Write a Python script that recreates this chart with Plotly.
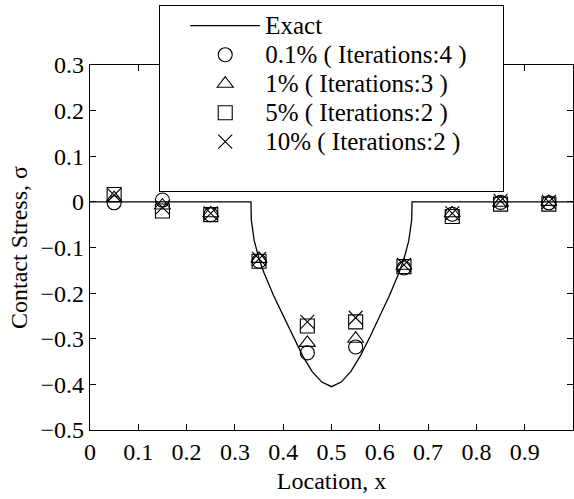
import plotly.graph_objects as go

# Exact solution
exact_x = [0.0, 0.3333, 0.334, 0.34, 0.35, 0.36, 0.38, 0.40, 0.42, 0.44, 0.46, 0.48, 0.50,
           0.52, 0.54, 0.56, 0.58, 0.60, 0.62, 0.64, 0.65, 0.66, 0.666, 0.6667, 1.0]
exact_y = [0.0, 0.0, -0.04, -0.085, -0.125, -0.155, -0.205, -0.25, -0.295, -0.337, -0.372, -0.395, -0.405,
           -0.395, -0.372, -0.337, -0.295, -0.25, -0.205, -0.155, -0.125, -0.085, -0.04, 0.0, 0.0]

loc = [0.05, 0.15, 0.25, 0.35, 0.45, 0.55, 0.65, 0.75, 0.85, 0.95]
s01 = [-0.002, 0.004, -0.028, -0.130, -0.331, -0.318, -0.145, -0.027, -0.001, -0.002]
s1 = [0.008, -0.008, -0.025, -0.125, -0.309, -0.300, -0.140, -0.025, -0.002, 0.000]
s5 = [0.016, -0.020, -0.028, -0.130, -0.272, -0.263, -0.142, -0.032, -0.005, -0.005]
s10 = [0.015, -0.012, -0.025, -0.125, -0.263, -0.254, -0.138, -0.025, 0.002, 0.000]

names = ["0.1% ( Iterations:4 )", "1% ( Iterations:3 )", "5% ( Iterations:2 )", "10% ( Iterations:2 )"]
symbols = ["circle-open", "triangle-up-open", "square-open", "x-thin-open"]
series = [s01, s1, s5, s10]

FONT = "Liberation Serif, Times New Roman, serif"


def big(t):
    return '<span style="font-size:25px">' + t + '\u00a0' * 5 + '</span>'


fig = go.Figure()
fig.add_trace(go.Scatter(x=exact_x, y=exact_y, mode="lines", name=big("Exact"),
                         line=dict(color="black", width=1.3)))
for nm, sym, vals in zip(names, symbols, series):
    fig.add_trace(go.Scatter(x=loc, y=vals, mode="markers", name=big(nm),
                             marker=dict(symbol=sym, size=14, color="black",
                                         line=dict(color="black", width=1.1))))
# blank legend row for bottom padding
fig.add_trace(go.Scatter(x=[None], y=[None], mode="markers", name="\u00a0",
                         marker=dict(color="rgba(0,0,0,0)")))

axis_common = dict(showline=True, mirror="ticks", linecolor="black", linewidth=1.2,
                   ticks="inside", ticklen=6, tickcolor="black", showgrid=False, zeroline=False,
                   tickfont=dict(family=FONT, size=24, color="black"))
fig.update_layout(
    width=574, height=499,
    margin=dict(l=90, r=1, t=65, b=69),
    paper_bgcolor="white", plot_bgcolor="white",
    font=dict(family=FONT, color="black"),
    xaxis=dict(range=[0, 1], dtick=0.1, tick0=0,
               title=dict(text="Location, x", font=dict(family=FONT, size=24), standoff=8),
               **axis_common),
    yaxis=dict(range=[-0.5, 0.3], dtick=0.1, tick0=0,
               title=dict(text="Contact Stress, σ", font=dict(family=FONT, size=24), standoff=6),
               **axis_common),
    legend=dict(x=0.1429, y=1.1644, xanchor="left", yanchor="top",
                bgcolor="white", bordercolor="black", borderwidth=1.2,
                font=dict(family=FONT, size=20, color="black"),
                itemwidth=70, tracegroupgap=0,
                title=dict(text="\u00a0\u00a0\u00a0", side="left", font=dict(size=20))),
    showlegend=True,
)
fig.write_html("out.html")
